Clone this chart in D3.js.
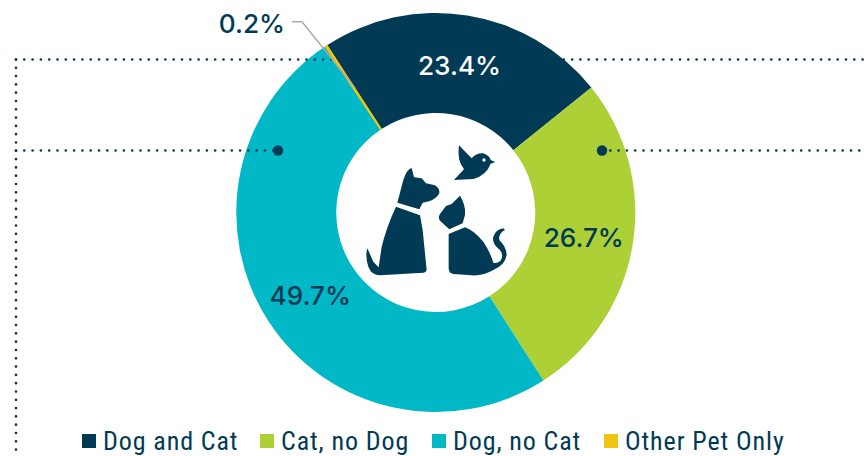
<!DOCTYPE html>
<html><head><meta charset="utf-8">
<script src="https://cdn.jsdelivr.net/npm/d3@7/dist/d3.min.js"></script>
<style>html,body{margin:0;padding:0;background:#fff}svg{display:block}</style>
</head><body><svg id="c" width="867" height="456"></svg>
<script>
const categories = ["Dog and Cat","Cat, no Dog","Dog, no Cat","Other Pet Only"];
const values = [23.4,26.7,49.7,0.2];
const colors = ["#003a54","#acd036","#00b8c6","#eec512"];
const legendPos = [82,260,432,604];
const W=867,H=456,cx=435.75,cy=212.5,R=199.5,r=99.5,navy="#003a54";
const svg=d3.select("#c");
const pie=d3.pie().sort(null).value(d=>d).startAngle(-33*Math.PI/180).endAngle(327*Math.PI/180);
const arc=d3.arc().innerRadius(r).outerRadius(R);
const g=svg.append("g").attr("transform",`translate(${cx},${cy})`);
const arcs=pie(values);
g.selectAll("path").data(arcs).join("path").attr("d",arc).attr("fill",(d,i)=>colors[i]);
g.append("path").attr("d",arc(arcs[3])).attr("fill",colors[3]).attr("stroke",colors[3]).attr("stroke-width",0.8);

const dots=[[[16,59.5],[W,59.5]],[[16,150.5],[278,150.5]],[[602,150.5],[W,150.5]],[[16,59.5],[16,H]]];
svg.selectAll("line.g").data(dots).join("line").attr("class","g")
 .attr("x1",d=>d[0][0]).attr("y1",d=>d[0][1]).attr("x2",d=>d[1][0]).attr("y2",d=>d[1][1])
 .attr("stroke",navy).attr("stroke-width",2.7).attr("stroke-linecap","round").attr("stroke-dasharray","0 8.3");
svg.selectAll("circle.e").data([[278,150.5],[602,150.5]]).join("circle").attr("class","e")
 .attr("cx",d=>d[0]).attr("cy",d=>d[1]).attr("r",5.2).attr("fill",navy);

const font="Inter, 'Open Sans', sans-serif";
const labelArc=d3.arc().innerRadius(150).outerRadius(150);
const tg=svg.append("g").attr("transform",`translate(${cx},${cy})`);
[0,1,2].forEach(i=>{const p=labelArc.centroid(arcs[i]);
 tg.append("text").attr("x",p[0]).attr("y",p[1]+1).attr("text-anchor","middle").attr("dominant-baseline","central")
  .attr("font-family",font).attr("font-size",26.2).attr("font-weight",500).attr("fill",i==0?"#fff":navy).text(values[i].toFixed(1)+"%");});
svg.append("text").attr("x",252).attr("y",23).attr("text-anchor","middle").attr("dominant-baseline","central")
  .attr("font-family",font).attr("font-size",26.2).attr("font-weight",500).attr("fill",navy).text(values[3].toFixed(1)+"%");
svg.append("path").attr("d","M292,21.7H302L355,88").attr("fill","none").attr("stroke","#aaa").attr("stroke-width",1.4);

const ic=svg.append("g").attr("transform","translate(340,130) scale(0.3333)").attr("fill",navy);
[
"M172,218L190,150Q200,118 215,114L222,142L245,145L258,160L285,166Q300,175 298,190Q290,205 270,213L248,218L238,238Z",
"M168,230L240,256L248,300L260,420Q258,428 250,428L120,436Q95,436 85,410Q75,380 82,355L100,395L116,412L125,350Q140,290 168,230Z",
"M360,197Q378,225 375,255Q370,272 368,280L328,298L300,272Q293,262 300,252L318,228L335,222Z",
"M326,312L375,292Q400,300 430,335Q450,365 460,398Q470,402 482,392Q492,375 480,360Q455,340 460,320Q468,298 490,295L495,300Q475,310 478,330Q500,352 500,375Q495,405 460,420Q430,438 395,436L340,432Q326,430 326,415Z",
"M357,46L395,85Q410,68 430,70Q450,78 452,90L466,96L452,101Q440,135 400,147L342,150L372,118Q350,90 357,46Z"
].forEach(d=>ic.append("path").attr("d",d));
ic.append("circle").attr("cx",432).attr("cy",90).attr("r",5).attr("fill","#fff");

const lg=svg.selectAll("g.l").data(categories).join("g").attr("class","l").attr("transform",(d,i)=>`translate(${legendPos[i]},434)`);
lg.append("rect").attr("width",14).attr("height",14).attr("fill",(d,i)=>colors[i]);
lg.append("text").attr("x",21).attr("y",15.5).attr("font-family","'Liberation Sans Narrow','Roboto Condensed',Roboto,sans-serif")
 .attr("font-size",26).attr("letter-spacing",0.9).attr("fill",navy).text(d=>d);
</script></body></html>
